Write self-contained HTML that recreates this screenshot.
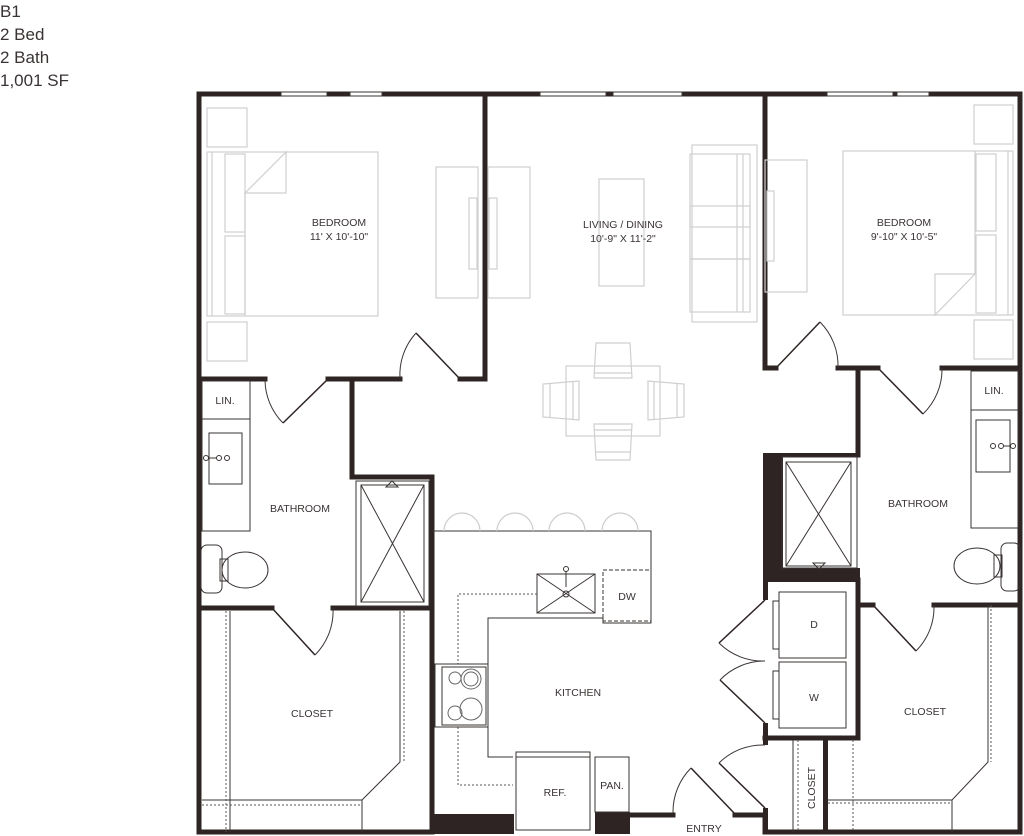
<!DOCTYPE html>
<html><head><meta charset="utf-8"><style>
html,body{margin:0;padding:0;background:#fff;}
svg{display:block;}
.t{font-family:"Liberation Sans",sans-serif;font-size:10.5px;fill:#3a3333;text-anchor:middle;}
.h{font-family:"Liberation Sans",sans-serif;font-size:17px;fill:#3a3333;}
.f{fill:none;stroke:#cfcfcf;stroke-width:1.2;}
.k{fill:none;stroke:#3a3333;stroke-width:1;}
.w{fill:#2e2424;}
.wl{stroke:#2e2424;stroke-width:5;fill:none;stroke-linecap:square;}
.dl{stroke:#2e2424;stroke-width:1.5;fill:none;}
.dot{fill:none;stroke:#555;stroke-width:1;stroke-dasharray:2 2;}
</style></head><body>
<svg width="1024" height="836" viewBox="0 0 1024 836" xmlns="http://www.w3.org/2000/svg">
<text class="h" x="0" y="17">B1</text>
<text class="h" x="0" y="40">2 Bed</text>
<text class="h" x="0" y="63">2 Bath</text>
<text class="h" x="0" y="86">1,001 SF</text>

<!-- outer walls -->
<path class="wl" d="M199 832 V94 H1020 V832"/>
<!-- windows -->
<g fill="#fff" stroke="#3a3333" stroke-width="1">
<rect x="281" y="92" width="46" height="4"/><rect x="350" y="92" width="32" height="4"/>
<rect x="540" y="92" width="66" height="4"/><rect x="613" y="92" width="69" height="4"/>
<rect x="827" y="92" width="66" height="4"/><rect x="897" y="92" width="32" height="4"/>
</g>
<!-- bottom walls -->
<path class="wl" d="M199 832 H432"/>
<rect class="w" x="432" y="814" width="82" height="20"/>
<rect class="w" x="595" y="812" width="35" height="22"/>
<path class="wl" d="M628 815 H673"/>
<path class="wl" d="M735 815 H765 V832 H1020"/>

<!-- left bedroom walls -->
<path class="wl" d="M485 94 V379 H460"/>
<path class="wl" d="M400 379 H328"/>
<path class="wl" d="M265 379 H199"/>
<path class="wl" d="M352 379 V477 H432 V832"/>
<path class="wl" d="M199 608 H272"/>
<path class="wl" d="M333 608 H432"/>
<!-- doors left -->
<path class="dl" d="M328 379 L283 423"/><path class="k" stroke="#777" d="M283 423 A62 62 0 0 1 265 379"/>
<path class="dl" d="M460 379 L416 333"/><path class="k" stroke="#777" d="M416 333 A62 62 0 0 0 400 379"/>
<path class="dl" d="M272 608 L315 655"/><path class="k" stroke="#777" d="M315 655 A62 62 0 0 0 333 608"/>

<!-- right bedroom walls -->
<path class="wl" d="M765 94 V368 H776"/>
<path class="wl" d="M838 368 H878"/>
<path class="wl" d="M942 368 H1020"/>
<path class="wl" d="M858 368 V455"/>
<path class="dl" d="M776 368 L820 322"/><path class="k" stroke="#777" d="M820 322 A62 62 0 0 1 838 368"/>
<path class="dl" d="M878 368 L923 414"/><path class="k" stroke="#777" d="M923 414 A62 62 0 0 0 942 368"/>
<!-- thick shower block right -->
<rect class="w" x="763" y="453" width="20" height="129"/>
<rect class="w" x="763" y="453" width="97" height="4"/>
<rect class="w" x="763" y="568" width="97" height="14"/>
<rect class="w" x="763" y="582" width="5" height="18"/>
<rect class="w" x="763" y="723" width="5" height="22"/>
<path class="wl" d="M858 580 V738 H765"/>
<path class="wl" d="M858 605 H873"/>
<path class="wl" d="M934 605 H1020"/>
<path class="dl" d="M873 605 L916 651"/><path class="k" stroke="#777" d="M916 651 A62 62 0 0 0 934 605"/>
<rect class="w" x="823" y="740" width="5" height="94"/>
<rect class="w" x="763" y="808" width="5" height="26"/>
<!-- laundry doors -->
<path class="dl" d="M765 600 L719 643"/><path class="k" stroke="#777" d="M719 643 A62 62 0 0 0 765 661"/>
<path class="dl" d="M765 723 L720 680"/><path class="k" stroke="#777" d="M720 680 A62 62 0 0 1 765 661"/>
<path class="dl" d="M765 808 L719 763"/><path class="k" stroke="#777" d="M719 763 A62 62 0 0 1 765 745"/>
<!-- entry door -->
<path class="dl" d="M735 814 L691 768"/><path class="k" stroke="#777" d="M691 768 A62 62 0 0 0 673 813"/>

<!-- left bath fixtures -->
<rect class="k" x="202" y="381" width="48" height="38"/>
<rect class="k" x="202" y="419" width="48" height="112"/>
<rect class="k" x="209" y="433" width="33" height="51"/>
<circle class="k" cx="206" cy="458" r="2.5"/><circle class="k" cx="219" cy="458" r="2.5"/><circle class="k" cx="227" cy="458" r="2.5"/><line class="k" x1="208" y1="458" x2="217" y2="458"/>
<rect class="k" x="201" y="545" width="21" height="48" rx="6"/>
<ellipse class="k" cx="245" cy="570" rx="23" ry="18"/>
<rect class="k" x="220" y="559" width="8" height="22"/>
<!-- left shower -->
<rect class="k" x="356" y="481" width="73" height="125"/>
<rect class="k" x="361" y="485" width="63" height="117"/>
<path class="k" d="M361 485 L424 602 M424 485 L361 602"/>
<path class="k" d="M386 487 L392 481 L398 487 Z"/>
<!-- left closet -->
<path class="k" d="M230 611 V832 M400 611 V762 L362 800 H202 M362 800 V832"/>
<path class="dot" d="M226 611 V832 M404 611 V762 M202 805 H362"/>

<!-- right bath fixtures -->
<rect class="k" x="971" y="371" width="47" height="39"/>
<rect class="k" x="971" y="410" width="47" height="118"/>
<rect class="k" x="976" y="420" width="34" height="52"/>
<circle class="k" cx="993" cy="446" r="2.5"/><circle class="k" cx="1001" cy="446" r="2.5"/><circle class="k" cx="1013" cy="446" r="2.5"/><line class="k" x1="1003" y1="446" x2="1011" y2="446"/>
<rect class="k" x="1001" y="543" width="19" height="48" rx="6"/>
<ellipse class="k" cx="977" cy="566" rx="23" ry="18"/>
<rect class="k" x="994" y="555" width="8" height="22"/>
<!-- right shower -->
<rect class="k" x="782" y="457" width="75" height="111"/>
<rect class="k" x="786" y="462" width="65" height="104"/>
<path class="k" d="M786 462 L851 566 M851 462 L786 566"/>
<path class="k" d="M813 563 L819 569 L825 563 Z"/>
<!-- laundry -->
<rect class="k" x="779" y="592" width="67" height="66"/><rect class="k" x="773" y="601" width="6" height="48"/>
<rect class="k" x="779" y="662" width="67" height="66"/><rect class="k" x="773" y="671" width="6" height="48"/>
<!-- small closet -->
<path class="k" d="M793 740 V832"/><path class="dot" d="M798 740 V832"/>
<!-- right closet -->
<path class="k" d="M988 605 V762 L952 800 H828 M952 800 V832"/>
<path class="dot" d="M991 605 V762 M828 803 H952 M853 740 V832"/>

<!-- kitchen -->
<path class="k" d="M432 531 H651 V623 H603 V618 H488 V757 H513"/>
<rect fill="none" stroke="#3a3333" stroke-dasharray="4 2" x="603" y="570" width="48" height="51"/>
<line class="k" x1="603" y1="623" x2="651" y2="623"/>
<rect class="k" x="537" y="574" width="58" height="39"/>
<path class="k" d="M537 574 L595 613 M595 574 L537 613"/>
<circle class="k" cx="566" cy="594" r="3"/><circle class="k" cx="566" cy="569" r="2.5"/><line class="k" x1="566" y1="571" x2="566" y2="587"/>
<path class="dot" d="M537 594 H458 V664 M458 727 V785 H513"/>
<rect class="k" x="435" y="664" width="53" height="63"/>
<rect class="k" x="442" y="667" width="44" height="58"/>
<g fill="none" stroke="#666" stroke-width="1"><circle cx="455" cy="678" r="6"/><circle cx="471" cy="679" r="10"/><circle cx="471" cy="679" r="7"/><circle cx="455" cy="713" r="7"/><circle cx="471" cy="709" r="11"/></g>
<g fill="none" stroke="#ccc" stroke-width="1.2">
<path d="M444 531 A18 18 0 0 1 480 531"/><path d="M497 531 A18 18 0 0 1 533 531"/><path d="M549 531 A18 18 0 0 1 585 531"/><path d="M602 531 A18 18 0 0 1 638 531"/>
</g>
<rect class="k" x="516" y="752" width="74" height="78"/><line class="k" x1="516" y1="757" x2="590" y2="757"/>
<rect class="k" x="595" y="757" width="34" height="55"/>

<!-- furniture left bedroom -->
<rect class="f" x="207" y="108" width="40" height="39"/>
<rect class="f" x="207" y="322" width="40" height="39"/>
<rect class="f" x="207" y="152" width="171" height="164"/>
<line class="f" x1="212" y1="152" x2="212" y2="316"/>
<rect class="f" x="225" y="154" width="20" height="78"/><rect class="f" x="225" y="236" width="20" height="78"/>
<path class="f" d="M245 193 L286 152 V193 Z M245 193 V316"/>
<rect class="f" x="436" y="167" width="42" height="131"/>
<rect class="f" x="469" y="198" width="8" height="71"/>
<rect class="f" x="488" y="167" width="42" height="131"/>
<rect class="f" x="489" y="198" width="8" height="71"/>
<!-- living -->
<rect class="f" x="599" y="179" width="45" height="107"/>
<rect class="f" x="692" y="145" width="65" height="177"/>
<rect class="f" x="690" y="154" width="60" height="73"/><rect class="f" x="690" y="206" width="60" height="53"/><rect class="f" x="690" y="259" width="60" height="53"/>
<line class="f" x1="737" y1="154" x2="737" y2="312"/><line class="f" x1="743" y1="154" x2="743" y2="312"/>
<rect class="f" x="566" y="366" width="94" height="70"/>
<path class="f" d="M596 343 H630 L632 378 H594 Z M594 373 H632"/>
<path class="f" d="M594 424 H632 L630 460 H596 Z M594 430 H632 M596 452 H630"/>
<path class="f" d="M579 381 V420 L543 417 V384 Z M573 381 V420 M550 383 V418"/>
<path class="f" d="M648 381 V420 L684 417 V384 Z M654 381 V420 M677 383 V418"/>
<!-- right bedroom -->
<rect class="f" x="974" y="105" width="39" height="39"/>
<rect class="f" x="974" y="320" width="39" height="39"/>
<rect class="f" x="843" y="151" width="170" height="164"/>
<line class="f" x1="1008" y1="151" x2="1008" y2="315"/>
<rect class="f" x="976" y="154" width="20" height="77"/><rect class="f" x="976" y="235" width="20" height="78"/>
<path class="f" d="M975 274 L935 315 V274 Z M975 274 V151"/>
<rect class="f" x="765" y="160" width="42" height="132"/>
<rect class="f" x="767" y="191" width="7" height="70"/>

<!-- labels -->
<text class="t" x="339" y="226">BEDROOM</text><text class="t" x="339" y="240">11' X 10'-10"</text>
<text class="t" x="623" y="228">LIVING / DINING</text><text class="t" x="623" y="242">10'-9" X 11'-2"</text>
<text class="t" x="904" y="226">BEDROOM</text><text class="t" x="904" y="240">9'-10" X 10'-5"</text>
<text class="t" x="225" y="404">LIN.</text>
<text class="t" x="994" y="394">LIN.</text>
<text class="t" x="300" y="512">BATHROOM</text>
<text class="t" x="918" y="507">BATHROOM</text>
<text class="t" x="312" y="717">CLOSET</text>
<text class="t" x="925" y="715">CLOSET</text>
<text class="t" x="578" y="696">KITCHEN</text>
<text class="t" x="627" y="600">DW</text>
<text class="t" x="814" y="628">D</text>
<text class="t" x="814" y="701">W</text>
<text class="t" x="555" y="796">REF.</text>
<text class="t" x="612" y="789">PAN.</text>
<text class="t" x="704" y="832">ENTRY</text>
<text class="t" transform="translate(815,788) rotate(-90)">CLOSET</text>
</svg>
</body></html>
